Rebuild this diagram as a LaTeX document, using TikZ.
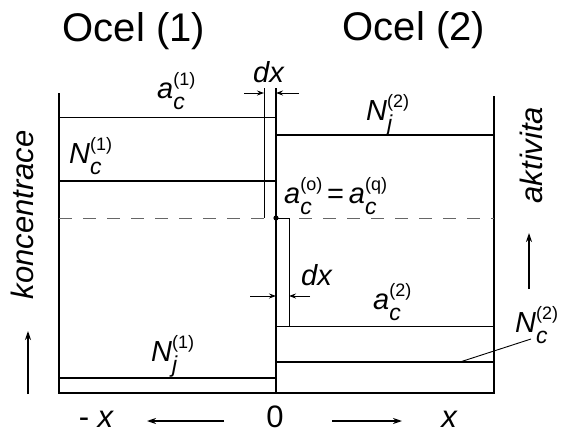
\documentclass[tikz,border=0pt]{standalone}
\usepackage{fontspec}
\setmainfont{Liberation Sans}
\usetikzlibrary{arrows.meta}
\newcommand\lbl[3]{{\itshape #1}\rlap{\raisebox{-11pt}{\fontsize{23}{23}\selectfont\itshape #2}}\raisebox{13pt}{\fontsize{18}{18}\selectfont #3}}
\begin{document}
\begin{tikzpicture}[x=1pt,y=-1pt,
  thin line/.style={line width=0.9pt},
  frame line/.style={line width=1.1pt},
  thick line/.style={line width=2pt},
  dash line/.style={line width=0.9pt,gray!80!black,dash pattern=on 13pt off 11pt},
  arr/.style={line width=0.9pt,-{Stealth[length=7pt,width=5pt]}},
  bigarr/.style={line width=1.3pt,-{Stealth[length=9pt,width=6pt]}},
  title/.style={font=\fontsize{40}{44}\selectfont,inner sep=0pt,anchor=base},
  lab/.style={font=\fontsize{29}{32}\selectfont,inner sep=0pt,anchor=base west},
  axl/.style={font=\fontsize{31}{34}\selectfont\itshape,inner sep=0pt}]
\useasboundingbox (0,0) rectangle (566,434);
% coordinates
\coordinate (Ltop) at (59,93);
\coordinate (Lbot) at (59,393);
\coordinate (Rtop) at (494,96);
\coordinate (Rbot) at (494,393);
\coordinate (Itop) at (276,88);
\coordinate (Ibot) at (276,393);
\coordinate (XLtop) at (264,88);
\coordinate (XLbot) at (264,218);
% frame
\draw[frame line] (Ltop) -- (Lbot) -- (Rbot) -- (Rtop);
\draw[frame line] (Itop) -- (Ibot);
\draw[thin line] (XLtop) -- (XLbot);
% dashed
\draw[dash line] (59,218) -- (494,218);
% activity lines
\draw[thin line] (59,117) -- (276,117);
\draw[thin line] (276,218) -- (289,218) -- (289,326);
\draw[thin line] (276,326) -- (494,326);
% concentration lines
\draw[thick line] (59,181) -- (276,181);
\draw[thick line] (276,135) -- (494,135);
\draw[thick line] (276,362) -- (494,362);
\draw[thick line] (59,378) -- (276,378);
% dot
\fill (276,218) circle (2.6pt);
% dx arrows
\draw[arr] (244,93) -- (264,93);
\draw[arr] (299,93) -- (276,93);
\draw[arr] (250,296) -- (276,296);
\draw[arr] (310,296) -- (289,296);
% titles
\node[title] (t1) at (134,41) {Ocel (1)};
\node[title] (t2) at (414,40) {Ocel (2)};
% labels
\node[lab] (dx1) at (253,82) {\itshape dx};
\node[lab] (dx2) at (301,285) {\itshape dx};
\node[lab] (a1) at (157,98) {\lbl{a}{c}{(1)}};
\node[lab] (nc1) at (69,163) {\lbl{N}{c}{(1)}};
\node[lab] (nj2) at (366,120) {\lbl{N}{j}{(2)}};
\node[lab] (aeq) at (284,203) {\lbl{a}{c}{(o)}\,=\,\lbl{a}{c}{(q)}};
\node[lab] (a2) at (373,309) {\lbl{a}{c}{(2)}};
\node[lab] (nc2) at (515,332) {\lbl{N}{c}{(2)}};
\node[lab] (nj1) at (151,361) {\lbl{N}{j}{(1)}};
\coordinate (lead) at (460,362);
\draw[thin line] (lead) -- (531,339);
% axes
\node[axl,rotate=90,anchor=base] (konc) at (33,215) {koncentrace};
\node[axl,rotate=90,anchor=base] (akt) at (542,155) {aktivita};
\draw[bigarr] (28,394) -- (28,331);
\draw[bigarr] (529,289) -- (529,233);
\node[axl,anchor=base] (mx) at (96,427) {\upshape - \itshape x};
\node[axl,anchor=base,font=\fontsize{31}{34}\selectfont\upshape] (zero) at (275,427) {0};
\node[axl,anchor=base] (px) at (449,427) {x};
\draw[bigarr] (224,421) -- (147,421);
\draw[bigarr] (332,421) -- (402,421);
\end{tikzpicture}
\end{document}
